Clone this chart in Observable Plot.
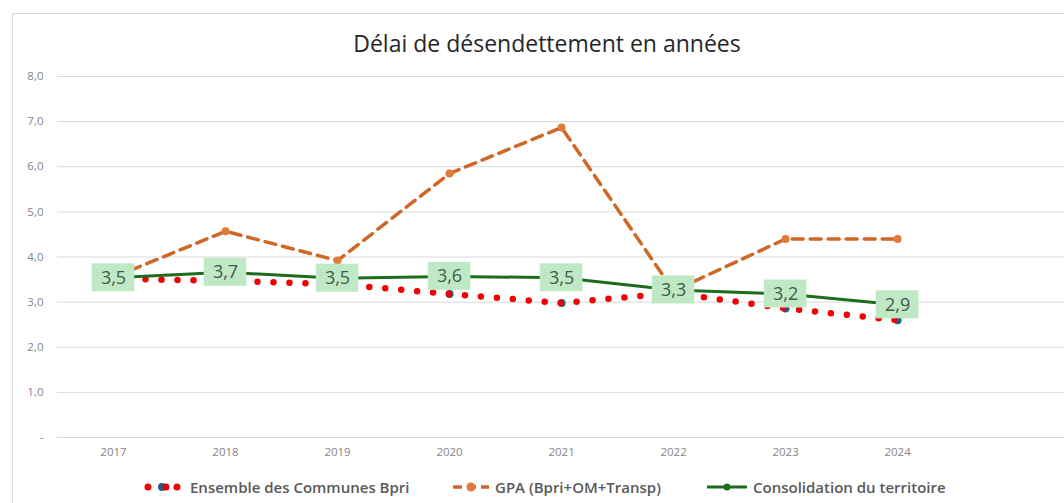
<!DOCTYPE html>
<html>
<head>
<meta charset="utf-8">
<script src="https://cdn.jsdelivr.net/npm/d3@7"></script>
<script src="https://cdn.jsdelivr.net/npm/@observablehq/plot@0.6"></script>
<style>
  html, body { margin: 0; padding: 0; background: #fff; width: 1064px; height: 503px; overflow: hidden; }
  body { position: relative; font-family: "Open Sans", "Noto Sans", sans-serif; }
  #frame { position: absolute; left: 12px; top: 13px; width: 1060px; height: 500px; border-left: 1px solid #d9d9d9; border-top: 1px solid #d9d9d9; box-sizing: border-box; }
  #title { position: absolute; top: 28px; left: 297px; width: 500px; text-align: center; font-size: 23px; color: #262626; line-height: 30px; }
  #chart { position: absolute; left: 0; top: 60px; }
  .leg { position: absolute; top: 476px; height: 22px; display: flex; align-items: center; font-size: 15px; font-weight: 600; color: #595959; white-space: nowrap; }
  .leg svg { margin-right: 5px; }
</style>
</head>
<body>
<div id="frame"></div>
<div id="title">Délai de désendettement en années</div>
<div id="chart"></div>
<div id="legend"></div>
<script>
const years = [2017, 2018, 2019, 2020, 2021, 2022, 2023, 2024];
const communes = [3.52, 3.47, 3.40, 3.18, 2.98, 3.20, 2.86, 2.60];
const gpa = [3.55, 4.57, 3.92, 5.85, 6.87, 3.25, 4.40, 4.40];
const consolidation = [3.54, 3.66, 3.53, 3.57, 3.54, 3.27, 3.18, 2.94];
const yTicks = [0, 1, 2, 3, 4, 5, 6, 7, 8];
const seriesNames = ["Ensemble des Communes Bpri", "GPA (Bpri+OM+Transp)", "Consolidation du territoire"];

const fmt = v => v.toFixed(1).replace(".", ",");
const rows = (vals) => years.map((y, i) => ({year: y, value: vals[i]}));
const dComm = rows(communes), dGpa = rows(gpa), dCons = rows(consolidation);

const RED = "#f00000", BLUE = "#1f5f8b", ORANGE = "#cf6726", GREEN = "#1e6b1e";

const plot = Plot.plot({
  width: 1064, height: 410,
  marginLeft: 57, marginRight: 0, marginTop: 16, marginBottom: 33,
  style: {fontFamily: "'Open Sans', sans-serif", fontSize: "11.5px", color: "#858585", background: "transparent"},
  x: {type: "linear", domain: [2016.5, 2025.49], ticks: years, tickFormat: d => String(d), tickSize: 0, tickPadding: 10, label: null},
  y: {domain: [0, 8], ticks: yTicks, tickFormat: d => d === 0 ? "-" : fmt(d), tickSize: 0, tickPadding: 14, label: null},
  marks: [
    Plot.ruleY(yTicks, {stroke: "#d9d9d9", strokeWidth: 1}),
    Plot.dot(dComm, {x: "year", y: "value", r: 4, fill: BLUE}),
    Plot.line(dComm, {x: "year", y: "value", stroke: RED, strokeWidth: 6.5, strokeDasharray: "0 16", strokeLinecap: "round"}),
    Plot.line(dGpa, {x: "year", y: "value", stroke: ORANGE, strokeWidth: 3.5, strokeDasharray: "11 7"}),
    Plot.dot(dGpa, {x: "year", y: "value", r: 4, fill: "#e07b39"}),
    Plot.line(dCons, {x: "year", y: "value", stroke: GREEN, strokeWidth: 3}),
    Plot.dot(dCons, {x: "year", y: "value", r: 3.5, fill: GREEN}),
    Plot.rect(dCons, {x1: d => d.year - 0.19, x2: d => d.year + 0.19, y1: d => d.value - 0.31, y2: d => d.value + 0.31, fill: "#bfe9c5"}),
    Plot.text(dCons, {x: "year", y: "value", text: d => fmt(d.value), fontSize: 18, fill: "#46594b"})
  ]
});
document.getElementById("chart").appendChild(plot);

// Legend
const legend = document.getElementById("legend");
const legItems = [
  {left: 143, name: seriesNames[0], svg: `<svg width="42" height="12"><circle cx="5" cy="6" r="3.5" fill="${RED}"/><circle cx="19" cy="6" r="4" fill="${BLUE}"/><circle cx="23" cy="6" r="3.5" fill="${RED}"/><circle cx="34" cy="6" r="3.5" fill="${RED}"/></svg>`},
  {left: 452, name: seriesNames[1], svg: `<svg width="38" height="12"><line x1="1" y1="6" x2="37" y2="6" stroke="${ORANGE}" stroke-width="3.5" stroke-dasharray="9 5"/><circle cx="19" cy="6" r="4.5" fill="#e07b39"/></svg>`},
  {left: 706, name: seriesNames[2], svg: `<svg width="42" height="12"><line x1="1" y1="6" x2="41" y2="6" stroke="${GREEN}" stroke-width="3"/><circle cx="21" cy="6" r="3.5" fill="${GREEN}"/></svg>`}
];
legItems.forEach(it => {
  const div = document.createElement("div");
  div.className = "leg";
  div.style.left = it.left + "px";
  div.innerHTML = it.svg + `<span>${it.name}</span>`;
  legend.appendChild(div);
});
</script>
</body>
</html>
